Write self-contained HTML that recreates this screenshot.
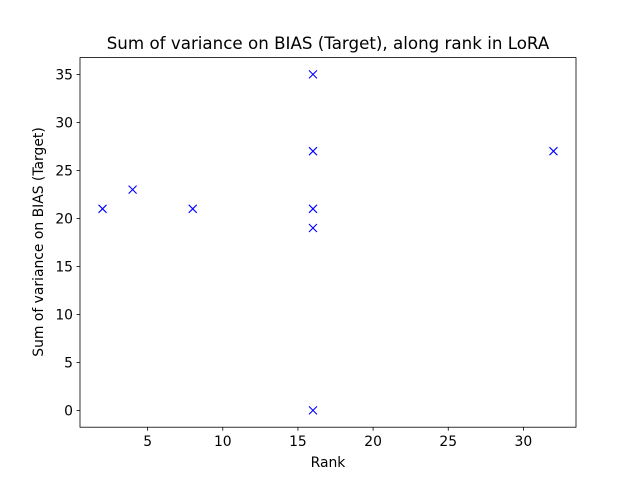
<!DOCTYPE html>
<html><head><meta charset="utf-8"><style>
body{margin:0;background:#fff;}
svg{display:block;font-family:"DejaVu Sans","Liberation Sans",sans-serif;}
</style></head><body>
<svg id="chart" width="640" height="480">
<rect width="640" height="480" fill="#fff"/>
<text x="328" y="49" font-size="16.7" text-anchor="middle">Sum of variance on BIAS (Target), along rank in LoRA</text>
<g id="xt"></g><g id="yt"></g><g id="pts"></g>
<rect x="80" y="57.6" width="496" height="369.6" fill="none" stroke="#000" stroke-width="0.8"/>
<text x="328" y="467" font-size="13.9" text-anchor="middle">Rank</text>
<text transform="translate(43,242) rotate(-90)" font-size="13.9" text-anchor="middle">Sum of variance on BIAS (Target)</text>
</svg>
<script>
const ranks=[2,4,8,16,16,16,16,16,32];
const variances=[21,23,21,35,27,21,19,0,27];
const xTicks=[5,10,15,20,25,30];
const yTicks=[0,5,10,15,20,25,30,35];
const L=80,R=576,T=57.6,B=427.2;
const xmin=0.5,xmax=33.5,ymin=-1.75,ymax=36.75;
const sx=v=>L+(v-xmin)/(xmax-xmin)*(R-L);
const sy=v=>B-(v-ymin)/(ymax-ymin)*(B-T);
const NS="http://www.w3.org/2000/svg";
function mk(t,a,p){const e=document.createElementNS(NS,t);for(const k in a)e.setAttribute(k,a[k]);p.appendChild(e);return e;}
const xt=document.getElementById('xt'),yt=document.getElementById('yt'),pts=document.getElementById('pts');
xTicks.forEach(v=>{const x=sx(v);
const l=mk('line',{x1:x,x2:x,y1:B,y2:B+3.5,stroke:'#000','stroke-width':0.8},xt);


const t=mk('text',{x:x,y:B+19,'font-size':13.9,'text-anchor':'middle'},xt);t.textContent=v;

});
yTicks.forEach(v=>{const y=sy(v);
const l=mk('line',{x1:L-3.5,x2:L,y1:y,y2:y,stroke:'#000','stroke-width':0.8},yt);


const t=mk('text',{x:L-7,y:y+5,'font-size':13.9,'text-anchor':'end'},yt);t.textContent=v;

});
ranks.forEach((r,i)=>{const x=sx(r),y=sy(variances[i]),s=4;
const g=mk('path',{d:`M${x-s},${y-s}L${x+s},${y+s}M${x-s},${y+s}L${x+s},${y-s}`,stroke:'#0000ff','stroke-width':1.1,fill:'none'},pts);

});
</script>
</body></html>
